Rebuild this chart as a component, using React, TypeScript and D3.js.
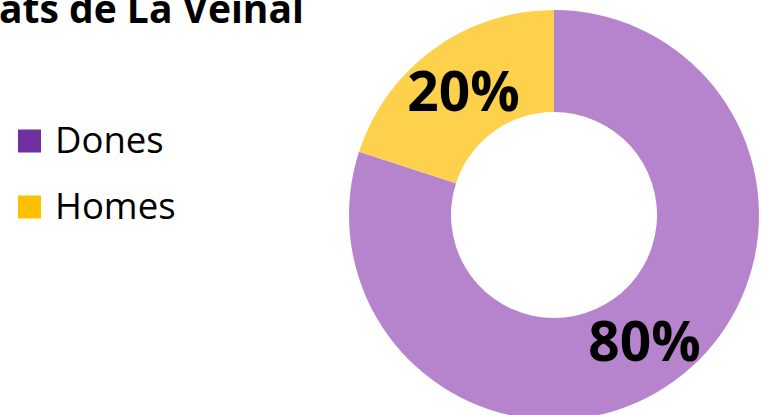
import React from "react";
import * as d3 from "d3";

const categories = ["Dones", "Homes"];
const values = [80, 20];
const labels = ["80%", "20%"];
const titleText = "ats de La Veïnal";

const W = 763;
const H = 415;
const donutColors = ["#B683CD", "#FDD14B"];
const legendColors = ["#7030A0", "#FFC000"];

export default function App() {
  const cx = 554;
  const cy = 215;
  const outerR = 205;
  const innerR = 103;
  const pie = d3.pie<number>().sort(null).value((d) => d);
  const arcs = pie(values);
  const arc = d3.arc<d3.PieArcDatum<number>>().innerRadius(innerR).outerRadius(outerR);
  const legendY = d3.scaleBand<string>().domain(categories).range([108, 240]);
  const font = "'Open Sans', 'DejaVu Sans', sans-serif";
  return (
    <svg
      width={W}
      height={H}
      style={{ position: "absolute", left: 0, top: 0, background: "#fff" }}
      fontFamily={font}
    >
      <rect width={W} height={H} fill="#fff" />
      <text x={-1} y={23} fontSize={39} fontWeight={700} fill="#000">
        {titleText}
      </text>
      {categories.map((c, i) => {
        const y0 = legendY(c)!;
        const mid = y0 + legendY.bandwidth() / 2;
        return (
          <g key={c}>
            <rect x={18} y={mid - 11.5} width={23} height={23} fill={legendColors[i]} />
            <text x={55} y={mid + 11.5} fontSize={36.5} fill="#000">
              {c}
            </text>
          </g>
        );
      })}
      <g transform={`translate(${cx},${cy})`}>
        {arcs.map((a, i) => (
          <path key={categories[i]} d={arc(a)!} fill={donutColors[i]} />
        ))}
        {arcs.map((a, i) => {
          const [x, y] = arc.centroid(a);
          return (
            <text
              key={"l" + i}
              x={x}
              y={y + 21}
              textAnchor="middle"
              fontSize={55}
              fontWeight={700}
              fill="#000"
            >
              {labels[i]}
            </text>
          );
        })}
      </g>
    </svg>
  );
}
